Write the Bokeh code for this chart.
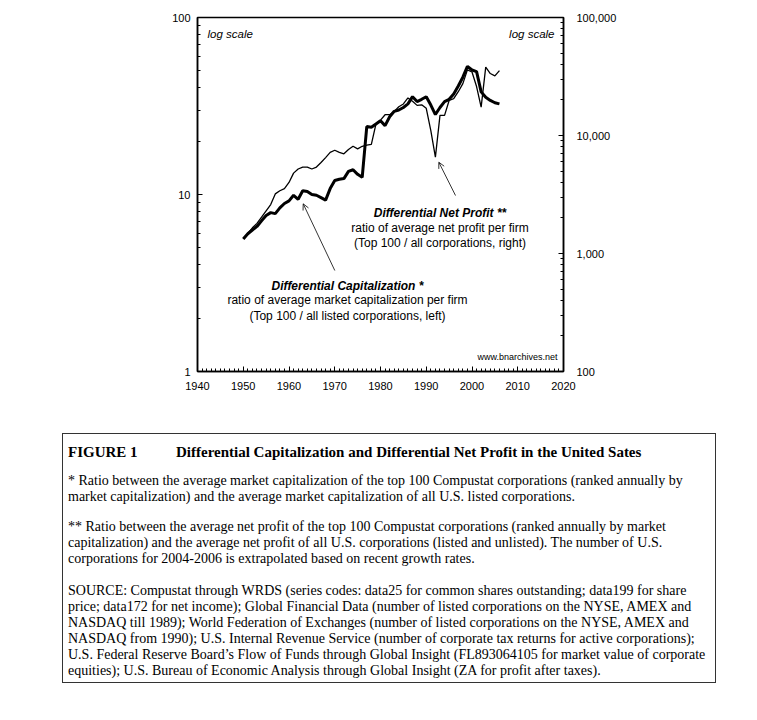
from bokeh.plotting import figure
from bokeh.models import (Range1d, LogScale, LogAxis, FixedTicker, NumeralTickFormatter,
                          Label, Arrow, OpenHead, ColumnDataSource, Div)
from bokeh.layouts import column
from bokeh.embed import file_html
from bokeh.resources import INLINE

# ---------------- data ----------------
years = list(range(1950, 2007))
diff_cap = [5.6, 6.0, 6.3, 6.6, 7.1, 7.6, 7.9, 7.8, 8.4, 8.9,
            9.2, 9.9, 9.4, 10.5, 10.4, 10.0, 9.9, 9.6, 9.3, 10.8,
            12.0, 12.2, 12.3, 13.5, 13.8, 13.0, 12.5, 24.2, 24.0, 25.0,
            26.1, 24.5, 27.5, 29.5, 30.0, 31.0, 32.5, 35.7, 33.5, 34.5,
            35.7, 32.0, 28.3, 31.0, 33.5, 34.5, 37.0, 41.0, 46.0, 53.0,
            50.5, 49.5, 38.0, 35.4, 34.0, 33.0, 32.5]
diff_profit = [1340, 1480, 1650, 1800, 2030, 2300, 2600, 3200, 3400, 3550,
               4000, 4800, 5200, 5400, 5400, 5200, 5400, 5900, 6500, 7200,
               7500, 7200, 7000, 7600, 8100, 7700, 8100, 8300, 8400, 12500,
               13500, 15000, 15000, 16000, 17500, 18500, 20800, 19500, 18000, 18200,
               17000, 11000, 6550, 14800, 14800, 19800, 20500, 23500, 27500, 36000,
               34500, 26000, 17400, 38000, 33500, 32000, 35500]

x_ticks = list(range(1940, 2021, 10))
left_ticks = [1, 10, 100]
right_ticks = [100, 1000, 10000, 100000]

caption_title_tag = "FIGURE 1"
caption_title = "Differential Capitalization and Differential Net Profit in the United Sates"
caption_paragraphs = [
    ["* Ratio between the average market capitalization of the top 100 Compustat corporations (ranked annually by",
     "market capitalization) and the average market capitalization of all U.S. listed corporations."],
    ["** Ratio between the average net profit of the top 100 Compustat corporations (ranked annually by market",
     "capitalization) and the average net profit of all U.S. corporations (listed and unlisted). The number of U.S.",
     "corporations for 2004-2006 is extrapolated based on recent growth rates."],
    ["SOURCE: Compustat through WRDS (series codes: data25 for common shares outstanding; data199 for share",
     "price; data172 for net income); Global Financial Data (number of listed corporations on the NYSE, AMEX and",
     "NASDAQ till 1989); World Federation of Exchanges (number of listed corporations on the NYSE, AMEX and",
     "NASDAQ from 1990); U.S. Internal Revenue Service (number of corporate tax returns for active corporations);",
     "U.S. Federal Reserve Board\u2019s Flow of Funds through Global Insight (FL893064105 for market value of corporate",
     "equities); U.S. Bureau of Economic Analysis through Global Insight (ZA for profit after taxes)."],
]

# ---------------- layout ----------------
W = 757
H1 = 418
H2 = 302
FL, FT, FW, FH = 197, 17, 366, 354
SANS = "Liberation Sans"
SERIF = "Liberation Serif"

p = figure(width=W, height=H1, x_range=Range1d(1940, 2020), y_range=Range1d(1, 100),
           y_axis_type="log", output_backend="svg", toolbar_location=None,
           min_border_left=FL, min_border_right=W - FL - FW,
           min_border_top=FT, min_border_bottom=H1 - FT - FH)
p.grid.visible = False
p.outline_line_color = "black"
p.outline_line_width = 1.5
p.outline_line_alpha = 1.0
p.background_fill_color = "white"
p.border_fill_color = "white"

p.extra_y_ranges = {"right": Range1d(100, 100000)}
p.extra_y_scales = {"right": LogScale()}
ax_r = LogAxis(y_range_name="right")
p.add_layout(ax_r, "right")

xa = p.xaxis[0]
xa.ticker = FixedTicker(ticks=x_ticks, minor_ticks=list(range(1940, 2021)))
ya = p.yaxis[0]
ya.ticker = FixedTicker(ticks=left_ticks,
                        minor_ticks=[k * 10 ** e for e in range(0, 2) for k in range(2, 10)])
ya.formatter = NumeralTickFormatter(format="0,0")
ax_r.ticker = FixedTicker(ticks=right_ticks,
                          minor_ticks=[k * 10 ** e for e in range(2, 5) for k in range(2, 10)])
ax_r.formatter = NumeralTickFormatter(format="0,0")

for ax in (xa, ya, ax_r):
    ax.major_tick_out = 0
    ax.major_tick_in = 5
    ax.minor_tick_out = 0
    ax.minor_tick_in = 3
    ax.axis_line_width = 1.5
    ax.major_tick_line_width = 1
    ax.minor_tick_line_width = 1
    ax.major_label_text_font = SANS
    ax.major_label_text_font_size = "11px"
    ax.major_label_text_color = "black"
xa.major_label_standoff = 10
ya.major_label_standoff = 7
ax_r.major_label_standoff = 13

src = ColumnDataSource(dict(year=years, cap=diff_cap, profit=diff_profit))
p.line("year", "cap", source=src, line_width=3, color="black")
p.line("year", "profit", source=src, line_width=1.3, color="black", y_range_name="right")


def dx(sx):
    return 1940 + (sx - 197) * 80 / 366


def dy(sy):
    return 10 ** ((371 - sy) * 2 / 354)


def lab(sx, sy, text, align="center", style="normal", size="12px"):
    p.add_layout(Label(x=dx(sx), y=dy(sy), text=text, text_align=align, text_baseline="middle",
                       text_font=SANS, text_font_size=size, text_font_style=style,
                       text_color="black"))


lab(207, 33, "log scale", align="left", style="italic", size="11.5px")
lab(554, 33, "log scale", align="right", style="italic", size="11.5px")
lab(439.5, 212.5, "Differential Net Profit **", style="bold italic")
lab(439.5, 227, "ratio of average net profit per firm")
lab(439.5, 242.5, "(Top 100 / all corporations, right)")
lab(347, 285.5, "Differential Capitalization *", style="bold italic")
lab(347, 299.5, "ratio of average market capitalization per firm")
lab(347, 315, "(Top 100 / all listed corporations, left)")
lab(557, 356, "www.bnarchives.net", align="right", size="9px")

p.add_layout(Arrow(end=OpenHead(size=6, line_width=0.8, line_color="black"),
                   x_start=dx(455), y_start=dy(195), x_end=dx(438.3), y_end=dy(161.7),
                   line_width=0.8, line_color="black"))
p.add_layout(Arrow(end=OpenHead(size=6, line_width=0.8, line_color="black"),
                   x_start=dx(334.3), y_start=dy(270), x_end=dx(302.7), y_end=dy(203.3),
                   line_width=0.8, line_color="black"))

# ---------------- caption (HTML text) ----------------
def line_div(left, cy, text, size, weight="normal", lh=16):
    return ('<div style="position:absolute;left:%dpx;top:%dpx;line-height:%dpx;'
            'font-family:\'%s\';font-size:%s;font-weight:%s;white-space:nowrap;color:black;">%s</div>'
            % (left, cy - lh // 2, lh, SERIF, size, weight, text))


parts = ['<div style="position:relative;width:%dpx;height:%dpx;">' % (W, H2),
         '<div style="position:absolute;left:62px;top:15px;width:654px;height:250px;'
         'border:1px solid #333;"></div>',
         line_div(68, 34, caption_title_tag, "15px", "bold", 18),
         line_div(176, 34, caption_title, "15px", "bold", 18)]
para_starts = [63, 109, 173]
for start, lines in zip(para_starts, caption_paragraphs):
    for i, t in enumerate(lines):
        parts.append(line_div(68, start + 16 * i, t, "14px"))
parts.append('</div>')
cap = Div(text="".join(parts), width=W, height=H2, margin=0)

layout = column(p, cap)
open("out.html", "w").write(file_html(layout, INLINE))
